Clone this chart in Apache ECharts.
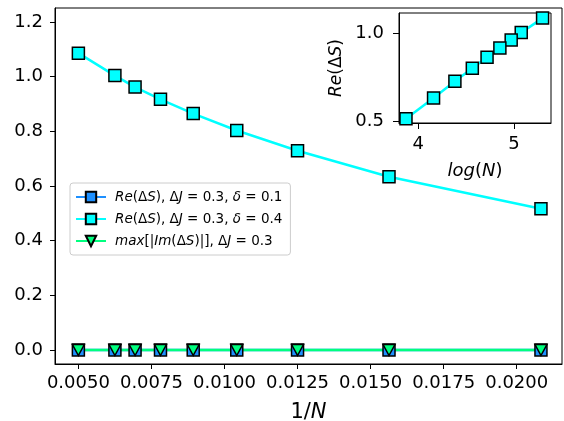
<!DOCTYPE html>
<html><head><meta charset="utf-8">
<script src="https://cdn.jsdelivr.net/npm/echarts@6/dist/echarts.min.js"></script>
<style>html,body{margin:0;padding:0;background:#fff}#c{width:564px;height:421px}</style>
</head><body><div id="c"></div>
<script>
// ---- data ----
const invN = [0.005, 0.00625, 0.00694, 0.00781, 0.00893, 0.01042, 0.0125, 0.01563, 0.02083];
const logN = [5.298, 5.075, 4.970, 4.852, 4.718, 4.564, 4.382, 4.159, 3.871];
const reDelta01 = [0, 0, 0, 0, 0, 0, 0, 0, 0];
const reDelta04 = [1.086, 1.004, 0.962, 0.917, 0.865, 0.803, 0.729, 0.634, 0.517];
const maxImDelta = [0, 0, 0, 0, 0, 0, 0, 0, 0];
const xTicks = [0.005, 0.0075, 0.01, 0.0125, 0.015, 0.0175, 0.02];
const yTicks = [0, 0.2, 0.4, 0.6, 0.8, 1.0, 1.2];
const insetXTicks = [4, 5];
const insetYTicks = [0.5, 1.0];
const names = ['s1', 's2', 's3'];
const legendLabels = {
  s1: '{i|Re}(Δ{i|S}), Δ{i|J} = 0.3, {i|δ} = 0.1',
  s2: '{i|Re}(Δ{i|S}), Δ{i|J} = 0.3, {i|δ} = 0.4',
  s3: '{i|max}[|{i|Im}(Δ{i|S})|], Δ{i|J} = 0.3'
};

const F = 'DejaVu Sans';
const pair = (xs, ys) => xs.map((x, i) => [x, ys[i]]);
const tickStyle = {color: '#000', width: 1};

const chart = echarts.init(document.getElementById('c'), null, {renderer: 'canvas'});
chart.setOption({
  backgroundColor: '#fff',
  animation: false,
  textStyle: {fontFamily: F},
  grid: [
    {left: 55, right: 2, top: 8, bottom: 57, show: true, borderColor: '#000', borderWidth: 1, containLabel: false, outerBoundsMode: 'none'},
    {left: 399, right: 13, top: 13, bottom: 298, show: true, borderColor: '#000', borderWidth: 1, backgroundColor: '#fff', containLabel: false, outerBoundsMode: 'none', z: 10}
  ],
  xAxis: [
    {type: 'value', gridIndex: 0, min: 0.0042, max: 0.02155,
     axisLine: {show: true, onZero: false, lineStyle: tickStyle},
     axisTick: {show: true, customValues: xTicks, length: 5, lineStyle: tickStyle},
     axisLabel: {customValues: xTicks, formatter: v => v.toFixed(4), color: '#000', fontSize: 18, fontFamily: F, margin: 10},
     splitLine: {show: false},
     name: '1/{i|N}', nameLocation: 'middle', nameGap: 38,
     nameTextStyle: {color: '#000', fontSize: 21, fontFamily: F, rich: {i: {fontStyle: 'italic', fontSize: 21, fontFamily: F}}}},
    {type: 'value', gridIndex: 1, min: 3.798, max: 5.386,
     axisLine: {show: true, onZero: false, lineStyle: tickStyle},
     axisTick: {show: true, customValues: insetXTicks, length: 6, lineStyle: tickStyle},
     axisLabel: {customValues: insetXTicks, formatter: v => String(v), color: '#000', fontSize: 18, fontFamily: F, margin: 12},
     splitLine: {show: false},
     name: '{i|log}({i|N})', nameLocation: 'middle', nameGap: 39,
     nameTextStyle: {color: '#000', fontSize: 18, fontFamily: F, rich: {i: {fontStyle: 'italic', fontSize: 18, fontFamily: F}}}, z: 10}
  ],
  yAxis: [
    {type: 'value', gridIndex: 0, min: -0.0512, max: 1.2512,
     axisLine: {show: true, onZero: false, lineStyle: tickStyle},
     axisTick: {show: true, customValues: yTicks, length: 5, lineStyle: tickStyle},
     axisLabel: {customValues: yTicks, formatter: v => v.toFixed(1), color: '#000', fontSize: 18, fontFamily: F, margin: 12},
     splitLine: {show: false}},
    {type: 'value', gridIndex: 1, min: 0.4925, max: 1.115,
     axisLine: {show: true, onZero: false, lineStyle: tickStyle},
     axisTick: {show: true, customValues: insetYTicks, length: 6, lineStyle: tickStyle},
     axisLabel: {customValues: insetYTicks, formatter: v => v.toFixed(1), color: '#000', fontSize: 18, fontFamily: F, margin: 15},
     splitLine: {show: false},
     name: '{i|Re}(Δ{i|S})', nameLocation: 'middle', nameGap: 54, nameRotate: 90,
     nameTextStyle: {color: '#000', fontSize: 17, fontFamily: F, rich: {i: {fontStyle: 'italic', fontSize: 17, fontFamily: F}}}, z: 10}
  ],
  legend: {
    show: true, orient: 'vertical', left: 70, top: 183,
    data: names,
    formatter: n => legendLabels[n],
    itemWidth: 30, itemHeight: 13, itemGap: 8,
    padding: [7, 8, 7, 5],
    borderColor: '#cccccc', borderWidth: 1, borderRadius: 3,
    backgroundColor: 'rgba(255,255,255,0.8)',
    textStyle: {color: '#000', fontSize: 13.5, lineHeight: 14, fontFamily: F, padding: [0, 0, 0, 4],
      rich: {i: {fontStyle: 'italic', fontSize: 13.5, lineHeight: 14, fontFamily: F}}}
  },
  series: [
    {name: 's1', type: 'line', xAxisIndex: 0, yAxisIndex: 0, data: pair(invN, reDelta01),
     symbol: 'rect', symbolSize: 12, showAllSymbol: true,
     lineStyle: {color: '#1e90ff', width: 2.5}, itemStyle: {color: '#1e90ff', borderColor: '#000', borderWidth: 1.5}},
    {name: 's2', type: 'line', xAxisIndex: 0, yAxisIndex: 0, data: pair(invN, reDelta04),
     symbol: 'rect', symbolSize: 12, showAllSymbol: true,
     lineStyle: {color: '#00ffff', width: 2.5}, itemStyle: {color: '#00ffff', borderColor: '#000', borderWidth: 1.5}},
    {name: 's3', type: 'line', xAxisIndex: 0, yAxisIndex: 0, data: pair(invN, maxImDelta),
     symbol: 'triangle', symbolRotate: 180, symbolSize: [12, 11], showAllSymbol: true,
     lineStyle: {color: '#00ff7f', width: 2.5}, itemStyle: {color: '#00ff7f', borderColor: '#000', borderWidth: 1.5}},
    {name: 'inset', type: 'line', xAxisIndex: 1, yAxisIndex: 1, data: pair(logN, reDelta04),
     symbol: 'rect', symbolSize: 12, showAllSymbol: true, z: 12,
     lineStyle: {color: '#00ffff', width: 2.5}, itemStyle: {color: '#00ffff', borderColor: '#000', borderWidth: 1.5}}
  ]
});
</script></body></html>
